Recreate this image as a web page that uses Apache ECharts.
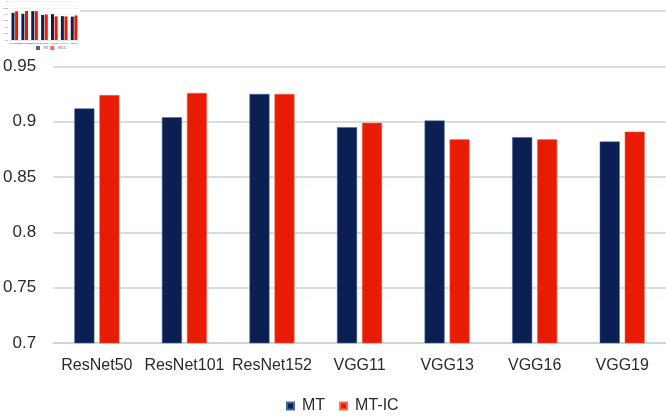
<!DOCTYPE html>
<html>
<head>
<meta charset="utf-8">
<script src="https://cdn.jsdelivr.net/npm/echarts@6/dist/echarts.min.js"></script>
<style>
  html, body { margin: 0; padding: 0; background: #fff; }
  #chart { width: 666px; height: 416px; }
</style>
</head>
<body>
<div id="chart"></div>
<script>
// 数据
const categories = ['ResNet50', 'ResNet101', 'ResNet152', 'VGG11', 'VGG13', 'VGG16', 'VGG19']
const mtValues = [0.912, 0.904, 0.925, 0.895, 0.901, 0.886, 0.882]
const mticValues = [0.924, 0.926, 0.925, 0.899, 0.884, 0.884, 0.891]
const yTicks = [0.7, 0.75, 0.8, 0.85, 0.9, 0.95, 1]

const navy = '#0c1f52'
const red = '#e81c04'
const gridColor = '#c8d5d5'
const labelColor = '#2a2a2a'

const chart = echarts.init(document.getElementById('chart'))

function fmt(v) {
  // 去掉浮点尾巴
  const r = Math.round(v * 100) / 100
  return yTicks.some(t => Math.abs(t - r) < 1e-9) ? String(r) : ''
}

chart.setOption({
  animation: false,
  backgroundColor: '#fff',
  grid: [
    { left: 52, right: 0, top: 11, bottom: 73 },
    // 左上角的缩略图
    { left: 8, width: 71, top: 1, height: 39 }
  ],
  legend: [
    {
      data: ['MT', 'MT-IC'],
      left: 286,
      top: 398,
      padding: 0,
      itemWidth: 7,
      itemHeight: 7,
      itemGap: 14,
      icon: 'rect',
      textStyle: { fontFamily: 'Liberation Sans', fontSize: 16, color: labelColor, padding: [0, 0, 0, 3] }
    },
    {
      data: ['MT', 'MT-IC'],
      left: 36,
      top: 46,
      padding: 0,
      itemWidth: 2,
      itemHeight: 2,
      itemGap: 2,
      icon: 'rect',
      z: 4,
      textStyle: { fontFamily: 'Liberation Sans', fontSize: 3, color: '#555' }
    }
  ],
  graphic: [
    {
      type: 'rect',
      z: 1,
      shape: { x: 0, y: 0, width: 80, height: 53 },
      style: { fill: '#fff' }
    }
  ],
  xAxis: [
    {
      type: 'category',
      data: categories,
      gridIndex: 0,
      axisTick: { show: false },
      axisLine: { show: true, lineStyle: { color: gridColor, width: 1.5 } },
      axisLabel: {
        margin: 15,
        fontFamily: 'Liberation Sans',
        fontSize: 16,
        color: labelColor,
        interval: 0
      }
    },
    {
      type: 'category',
      data: categories,
      gridIndex: 1,
      z: 3,
      axisTick: { show: false },
      axisLine: { show: true, lineStyle: { color: '#d8dede', width: 0.5 } },
      axisLabel: { margin: 2, fontSize: 2.5, color: '#555', interval: 0 }
    }
  ],
  yAxis: [
    {
      type: 'value',
      gridIndex: 0,
      min: 0.7,
      max: 1,
      interval: 0.05,
      axisLine: { show: false },
      axisTick: { show: false },
      splitLine: { lineStyle: { color: gridColor, width: 1.5 } },
      axisLabel: {
        margin: 17,
        fontFamily: 'Liberation Sans',
        fontSize: 17,
        color: labelColor,
        formatter: fmt
      }
    },
    {
      type: 'value',
      gridIndex: 1,
      min: 0.7,
      max: 1,
      interval: 0.05,
      z: 3,
      axisLine: { show: false },
      axisTick: { show: false },
      splitLine: { lineStyle: { color: '#e2e6e6', width: 0.5 } },
      axisLabel: { margin: 2, fontSize: 2.5, color: '#555', formatter: fmt }
    }
  ],
  series: [
    {
      name: 'MT',
      type: 'bar',
      data: mtValues,
      barWidth: 20,
      barGap: '25%',
      itemStyle: { color: navy, borderColor: '#3d6a9c', borderWidth: 0.5 }
    },
    {
      name: 'MT-IC',
      type: 'bar',
      data: mticValues,
      barWidth: 20,
      barGap: '25%',
      itemStyle: { color: red, borderColor: '#f56a50', borderWidth: 0.5 }
    },
    {
      name: 'MT',
      type: 'bar',
      xAxisIndex: 1,
      yAxisIndex: 1,
      z: 4,
      data: mtValues,
      barWidth: 3,
      barGap: '20%',
      itemStyle: { color: navy }
    },
    {
      name: 'MT-IC',
      type: 'bar',
      xAxisIndex: 1,
      yAxisIndex: 1,
      z: 4,
      data: mticValues,
      barWidth: 3,
      barGap: '20%',
      itemStyle: { color: red }
    }
  ]
})
</script>
</body>
</html>
